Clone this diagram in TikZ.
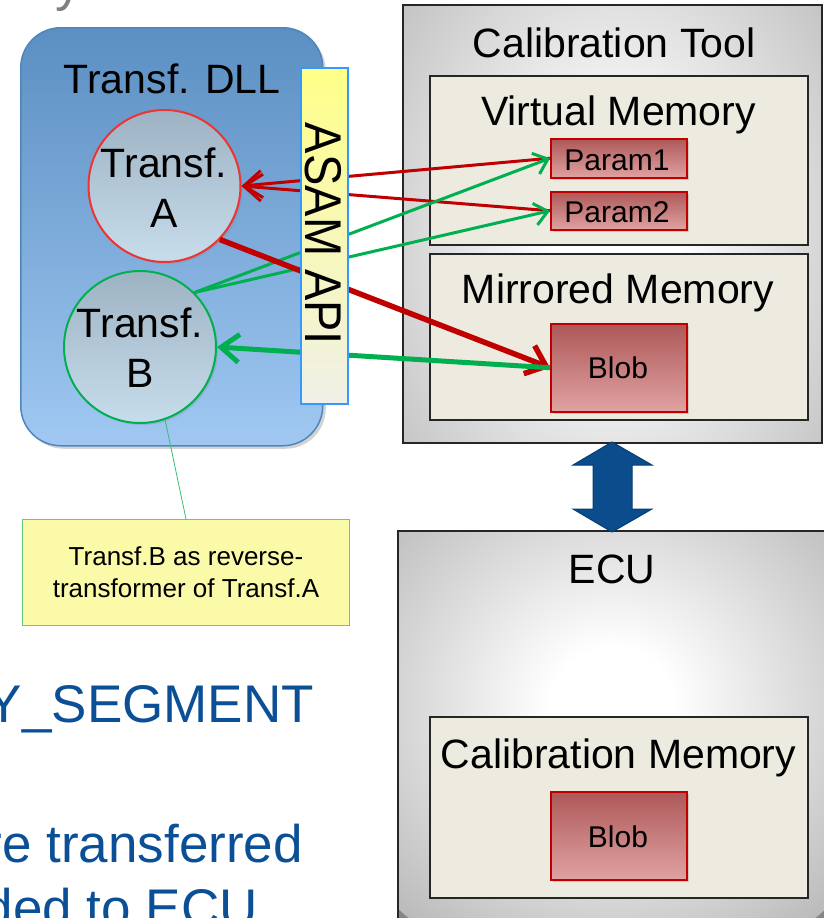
\documentclass[tikz,border=0pt]{standalone}
\usepackage{fontspec}
\setmainfont{Liberation Sans}
\usetikzlibrary{arrows.meta,shadows}
\definecolor{dllTop}{HTML}{5B8FC2}
\definecolor{dllBot}{HTML}{A0C8F2}
\definecolor{dllBorder}{HTML}{4F86BB}
\definecolor{circTop}{HTML}{9DB2C2}
\definecolor{circBot}{HTML}{C8DDEC}
\definecolor{redBorder}{HTML}{EE3333}
\definecolor{greenBorder}{HTML}{00B050}
\definecolor{apiTop}{HTML}{FFFF88}
\definecolor{apiBot}{HTML}{F0F0E8}
\definecolor{apiBorder}{HTML}{3399FF}
\definecolor{memFill}{HTML}{EDEAE0}
\definecolor{parTop}{HTML}{AE5858}
\definecolor{parBot}{HTML}{E0A2A2}
\definecolor{parBorder}{HTML}{C00000}
\definecolor{arrRed}{HTML}{C00000}
\definecolor{arrGreen}{HTML}{00B050}
\definecolor{linkBlue}{HTML}{0A4C8C}
\definecolor{txtBlue}{HTML}{0B4F96}
\definecolor{noteFill}{HTML}{FAFAA8}
\definecolor{noteBorder}{HTML}{66CC77}
\definecolor{boxGray}{HTML}{858585}
\definecolor{titleGray}{HTML}{808080}
\pgfdeclareradialshading{softglow}{\pgfpoint{0bp}{0bp}}{rgb(0bp)=(1,1,1); rgb(5bp)=(1,1,1); rgb(35bp)=(0.6,0.6,0.6); rgb(50bp)=(0.52,0.52,0.52)}
\tikzset{
  bigtxt/.style={font=\fontsize{41}{49}\selectfont, anchor=base, inner sep=0pt},
  midtxt/.style={font=\fontsize{30}{36}\selectfont, anchor=base, inner sep=0pt},
  notetxt/.style={font=\fontsize{26}{31}\selectfont, anchor=base, inner sep=0pt},
  slidetxt/.style={font=\fontsize{53}{64}\selectfont, text=txtBlue, anchor=base east, inner sep=0pt},
  dllbox/.style={rectangle, rounded corners=40pt, draw=dllBorder, line width=1.5pt,
     top color=dllTop, bottom color=dllBot, anchor=north west, inner sep=0pt,
     minimum width=302pt, minimum height=418pt,
     drop shadow={shadow xshift=3pt, shadow yshift=-3pt, opacity=0.35}},
  circ/.style={circle, line width=2pt, top color=circTop, bottom color=circBot,
     minimum size=152pt, inner sep=0pt,
     drop shadow={shadow xshift=2pt, shadow yshift=-2pt, opacity=0.25}},
  graybox/.style={rectangle, fill=boxGray, anchor=north west, inner sep=0pt},
  grayedge/.style={draw=black!85, line width=2pt},
  membox/.style={rectangle, draw=black!85, line width=1.5pt, fill=memFill, anchor=north west,
     inner sep=0pt, minimum width=378pt},
  redbox/.style={rectangle, draw=parBorder, line width=1.5pt, top color=parTop, bottom color=parBot,
     anchor=north west, inner sep=0pt, minimum width=136pt,
     drop shadow={shadow xshift=2pt, shadow yshift=-2pt, opacity=0.3}},
  apibox/.style={rectangle, draw=apiBorder, line width=2pt, top color=apiTop, bottom color=apiBot,
     anchor=north west, inner sep=0pt, minimum width=47pt, minimum height=336pt},
  notebox/.style={rectangle, draw=noteBorder, line width=1pt, fill=noteFill, anchor=north west,
     inner sep=0pt, minimum width=327pt, minimum height=106pt},
  noteline/.style={draw=arrGreen!80, line width=0.8pt},
  thinred/.style={draw=arrRed, line width=3pt, -{Straight Barb[length=18pt,width=27pt]}},
  thingreen/.style={draw=arrGreen, line width=3pt, -{Straight Barb[length=13pt,width=22pt]}},
  thickred/.style={draw=arrRed, line width=5.5pt, -{Straight Barb[length=18pt,width=30pt]}},
  thickgreen/.style={draw=arrGreen, line width=5pt, -{Straight Barb[length=18pt,width=28pt]}},
  linkshape/.style={fill=linkBlue, draw=linkBlue!80!black, line width=1pt}
}
\begin{document}
\begin{tikzpicture}[x=1pt,y=-1pt]
\useasboundingbox (0,0) rectangle (823,918);

% cut-off title fragment
\node[font=\fontsize{53}{64}\selectfont, text=titleGray, anchor=base west, inner sep=0pt] (ttl) at (55,0) {y};

% ---------- Transf. DLL ----------
\node[dllbox] (dll) at (20,27) {};
\node[bigtxt] (dllT) at (172,93) {Transf. DLL};
\node[circ, draw=redBorder] (cA) at (164.5,186) {};
\node[bigtxt] (tA1) at (164,177) {Transf.};
\node[bigtxt] (tA2) at (164,227) {A};
\node[circ, draw=greenBorder] (cB) at (140,347) {};
\node[bigtxt] (tB1) at (140,337) {Transf.};
\node[bigtxt] (tB2) at (140,387) {B};

% ---------- note ----------
\node[notebox] (note) at (22,519) {};
\node[notetxt] (n1) at (186,565) {Transf.B as reverse-};
\node[notetxt] (n2) at (186,597) {transformer of Transf.A};
\draw[noteline] (cB.-71) -- (note.north);

% ---------- Calibration Tool ----------
\node[graybox, minimum width=419pt, minimum height=438pt] (ct) at (403,5) {};
\begin{scope}
  \clip (ct.north west) rectangle (ct.south east);
  \shade[shading=softglow] (614,235) ellipse [x radius=303pt, y radius=408pt];
\end{scope}
\draw[grayedge] (ct.north west) rectangle (ct.south east);
\node[bigtxt] (ctT) at (614,57) {Calibration Tool};

\node[membox, minimum height=169pt] (vm) at (429,75) {};
\node[bigtxt] (vmT) at (618.5,125) {Virtual Memory};
\node[redbox, minimum height=39pt] (p1) at (550,138) {};
\node[midtxt] (p1T) at (617,170) {Param1};
\node[redbox, minimum height=38pt] (p2) at (550,191) {};
\node[midtxt] (p2T) at (617,222) {Param2};

\node[membox, minimum height=166pt] (mm) at (429,253) {};
\node[bigtxt] (mmT) at (618,303) {Mirrored Memory};
\node[redbox, minimum height=88pt] (b1) at (550,323) {};
\node[midtxt] (b1T) at (618,378) {Blob};

% ---------- ECU ----------
\node[graybox, minimum width=430pt, minimum height=440pt] (ecu) at (398,531) {};
\begin{scope}
  \clip (ecu.north west) rectangle (ecu.south east);
  \shade[shading=softglow] (612,705) ellipse [x radius=306pt, y radius=285pt];
\end{scope}
\draw[grayedge] (ecu.north west) rectangle (ecu.south east);
\node[bigtxt] (ecuT) at (612,583) {ECU};
\node[membox, minimum height=181pt] (cm) at (429,716) {};
\node[bigtxt] (cmT) at (618.5,768) {Calibration Memory};
\node[redbox, minimum height=88pt] (b2) at (550,791) {};
\node[midtxt] (b2T) at (618,847) {Blob};

% ---------- link between tool and ECU ----------
\draw[linkshape] (612,442) -- (652,465) -- (632,465) -- (632,509) -- (652,509) -- (612,532)
   -- (573,509) -- (593,509) -- (593,465) -- (573,465) -- cycle;

% ---------- connectors ----------
\draw[thinred] (p1.west) -- (cA.east);
\draw[thinred] (p2.west) -- (cA.east);
\draw[thingreen] (cB.45) -- (p1.west);
\draw[thingreen] (cB.45) -- (p2.west);
\draw[thickred] (cA.-44) -- (b1.west);
\draw[thickgreen] (b1.west) -- (cB.east);

% ---------- ASAM API ----------
\node[apibox] (api) at (300,67) {};
\node[font=\fontsize{47}{56}\selectfont, rotate=-90, yscale=1.1, inner sep=0pt] (apiT) at (323.5,234) {ASAM API};

% ---------- slide text ----------
\node[slidetxt] (s1) at (314,722) {Y\_SEGMENT};
\node[slidetxt] (s2) at (303,862) {re transferred};
\node[slidetxt] (s3) at (258,926) {ded to ECU};
\end{tikzpicture}
\end{document}
